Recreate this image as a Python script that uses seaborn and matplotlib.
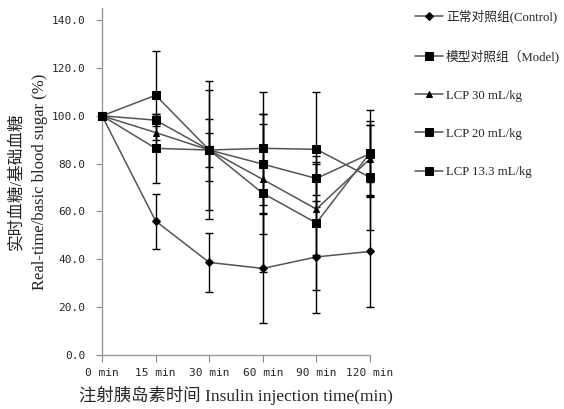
import numpy as np
import pandas as pd
import matplotlib
matplotlib.use("Agg")
import matplotlib.pyplot as plt
import seaborn as sns

times = ['0 min', '15 min', '30 min', '60 min', '90 min', '120 min']
groups = ['正常对照组(Control)', '模型对照组（Model)', 'LCP 30 mL/kg',
          'LCP 20 mL/kg', 'LCP 13.3 mL/kg']

control = [100.0, 56.0, 38.7, 36.2, 41.0, 43.3]
model = [100.0, 108.6, 85.7, 67.6, 55.2, 84.5]
lcp30 = [100.0, 93.0, 85.7, 73.4, 61.0, 82.0]
lcp20 = [100.0, 98.2, 85.7, 79.8, 73.8, 84.2]
lcp13 = [100.0, 86.4, 85.7, 86.4, 86.0, 74.3]

control_err = [0.0, 11.5, 12.5, 23.0, 23.4, 23.4]
model_err = [0.0, 18.6, 28.8, 33.0, 28.0, 18.1]
lcp30_err = [0.0, 7.0, 13.0, 23.0, 19.0, 16.0]
lcp20_err = [0.0, 2.5, 7.0, 21.0, 7.0, 12.0]
lcp13_err = [0.0, 14.4, 25.0, 23.6, 24.0, 22.0]

values = [control, model, lcp30, lcp20, lcp13]
errors = [control_err, model_err, lcp30_err, lcp20_err, lcp13_err]
marker_list = ['D', 's', '^', 's', 's']
marker_sizes = [4, 5.5, 5, 5.5, 5.5]

rows = []
for g, vals in zip(groups, values):
    for t, v in zip(times, vals):
        rows.append({'time': t, 'group': g, 'value': v})
df = pd.DataFrame(rows)

sns.set_style("ticks")
serif = ['Liberation Serif', 'Noto Sans CJK SC']
mono = ['DejaVu Sans Mono']

fig = plt.figure(figsize=(5.64, 4.09), dpi=100)
ax = fig.add_axes([0.181, 0.132, 0.475, 0.848])

for g, vals, err, m, ms in zip(groups, values, errors, marker_list, marker_sizes):
    sub = df[df['group'] == g]
    sns.lineplot(x='time', y='value', data=sub, ax=ax, color='#555555',
                 marker=m, markersize=ms, mfc='black', mec='black',
                 linewidth=1.1, legend=False, sort=False, clip_on=False,
                 zorder=3)
handles = list(ax.get_lines())

pos = np.arange(len(times))
for vals, err in zip(values, errors):
    eb = ax.errorbar(pos, vals, yerr=err, fmt='none', ecolor='black',
                     elinewidth=1.0, capsize=3, capthick=1.0, zorder=2)
    for art in eb.lines[1] + eb.lines[2]:
        art.set_clip_on(False)

ax.set_xlim(0, len(times) - 1)
ax.set_ylim(0, 145)
ax.set_yticks(np.arange(0, 141, 20))
ax.set_yticklabels([f'{v:.1f}' for v in np.arange(0, 141, 20)])
ax.set_xticks(pos)
ax.set_xticklabels(times)
for lab in ax.get_xticklabels() + ax.get_yticklabels():
    lab.set_family(mono)
    lab.set_fontsize(8)
ax.tick_params(axis='y', direction='out', length=4, pad=8, color='#888888')
ax.tick_params(axis='x', direction='out', length=5, pad=4, color='#888888')

sns.despine(ax=ax)
for sp in ['left', 'bottom']:
    ax.spines[sp].set_color('#999999')
    ax.spines[sp].set_linewidth(1.0)

ax.set_ylabel('实时血糖/基础血糖\nReal-time/basic blood sugar (%)',
              family=serif, fontsize=12, labelpad=3, linespacing=1.6)
ax.set_xlabel('注射胰岛素时间 Insulin injection time(min)',
              family=serif, fontsize=12.5, labelpad=6)

leg = fig.legend(handles, groups, loc='upper left',
                 bbox_to_anchor=(0.716, 1.004), frameon=False,
                 prop={'family': serif, 'size': 9.2},
                 handlelength=2.2, handletextpad=0.2, labelspacing=2.05)

fig.savefig('out.png', dpi=100)
